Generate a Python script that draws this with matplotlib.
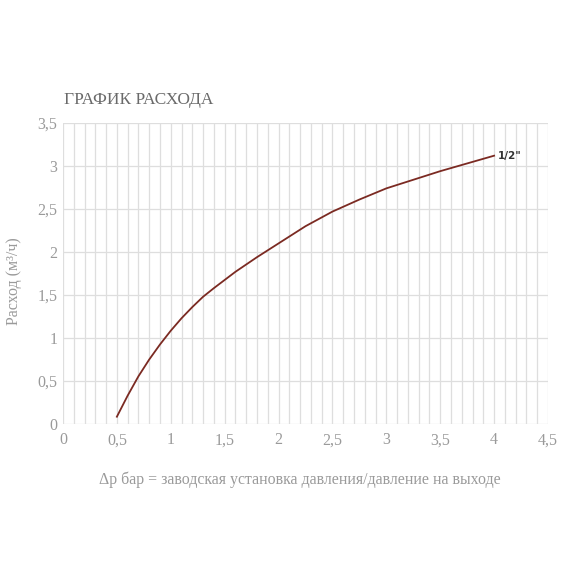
import numpy as np
import matplotlib
matplotlib.use("Agg")
import matplotlib.pyplot as plt

# data
dp = [0.5, 0.6, 0.7, 0.8, 0.9, 1.0, 1.1, 1.2, 1.3, 1.4, 1.6, 1.8, 2.0, 2.25, 2.5, 2.75, 3.0, 3.25, 3.5, 3.75, 4.0]
flow = [0.085, 0.33, 0.555, 0.75, 0.925, 1.085, 1.23, 1.36, 1.48, 1.58, 1.77, 1.94, 2.10, 2.30, 2.47, 2.61, 2.74, 2.84, 2.94, 3.03, 3.12]
series_label = '1/2"'
xticks = [0, 0.5, 1, 1.5, 2, 2.5, 3, 3.5, 4, 4.5]
yticks = [0, 0.5, 1, 1.5, 2, 2.5, 3, 3.5]

serif = ["Liberation Serif", "DejaVu Serif"]
txt = "#9a9a9a"
grid = "#dedede"


def fmt(t):
    return str(int(t)) if t == int(t) else str(t).replace(".", ",")


fig = plt.figure(figsize=(5.7, 5.7), dpi=100)
ax = fig.add_axes([0.1105, 0.2561, 0.8509, 0.5281])
ax.set_xlim(0, 4.5)
ax.set_ylim(0, 3.5)

for v in np.arange(0, 4.51, 0.1):
    ax.axvline(v, color=grid, lw=0.9, zorder=0)
for v in yticks:
    ax.axhline(v, color=grid, lw=0.9, zorder=0)

ax.plot(dp, flow, color="#7b2a22", lw=1.3, zorder=3, solid_joinstyle="round")
ax.text(dp[-1] + 0.03, flow[-1], series_label, fontsize=7.5, fontweight="bold",
        color="#333333", family="DejaVu Sans", va="center", ha="left")

for s in ax.spines.values():
    s.set_visible(False)
ax.set_xticks(xticks)
ax.set_yticks(yticks)
ax.set_xticklabels([fmt(t) for t in xticks], family=serif, fontsize=11.5, color=txt)
ax.set_yticklabels([fmt(t) for t in yticks], family=serif, fontsize=11.5, color=txt)
ax.tick_params(axis="y", length=0, pad=4)
ax.tick_params(axis="x", length=0, pad=6)

fig.text(0.112, 0.825, "ГРАФИК РАСХОДА", family=serif, fontsize=12.5, color="#6a6a6a",
         ha="left", va="center")
fig.text(0.025, 0.506, "Расход (м³/ч)", family=serif, fontsize=11.5, color=txt,
         rotation=90, ha="center", va="center")
fig.text(0.526, 0.158, "Δp бар = заводская установка давления/давление на выходе",
         family=serif, fontsize=11.4, color=txt, ha="center", va="center")

fig.savefig("out.png", dpi=100, facecolor="white")
